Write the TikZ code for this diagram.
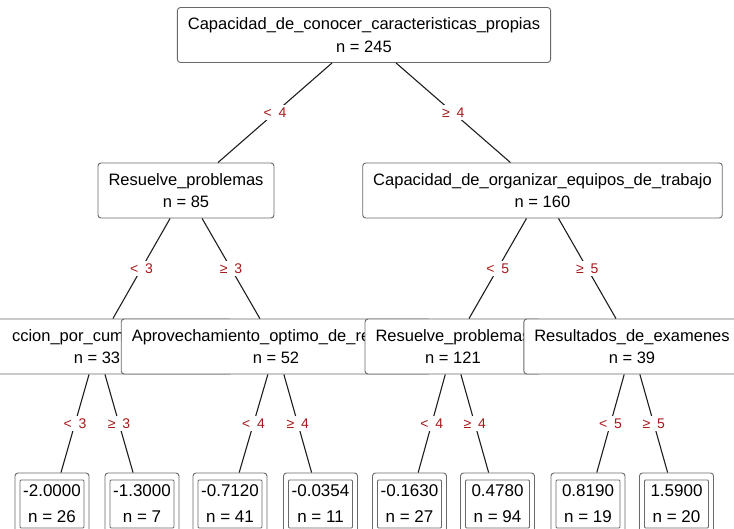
\documentclass[tikz,border=0pt]{standalone}
\usepackage{fontspec}
\setmainfont{Liberation Sans}
\usepackage{xcolor}

\definecolor{splitred}{RGB}{165,25,25}
\definecolor{boxgray}{RGB}{105,105,105}
\definecolor{edgegray}{RGB}{30,30,30}

\begin{document}
\begin{tikzpicture}[x=1pt, y=-1pt,
    splitbox/.style={draw=boxgray, line width=0.9pt, fill=white, rounded corners=3pt, align=center,
      inner xsep=10.5pt, inner ysep=2pt, minimum height=55pt, font=\fontsize{16.5}{22.6}\selectfont},
    leafbox/.style={draw=boxgray, line width=0.9pt, fill=white, rounded corners=3pt,
      minimum width=74pt, minimum height=62pt},
    leaftext/.style={draw=boxgray, line width=0.9pt, rounded corners=1pt, align=center, inner sep=1.5pt,
      minimum width=64pt, minimum height=48pt, font=\fontsize{17}{26}\selectfont},
    cutlabel/.style={fill=white, text=splitred, inner sep=2.5pt, font=\fontsize{14}{16}\selectfont},
    branch/.style={draw=edgegray, line width=1.1pt}]
    \useasboundingbox (0,0) rectangle (734,529);
    \clip (0,0) rectangle (734,529);

    % Root and second level
    \node[splitbox] (root) at (364,35) {Capacidad\_de\_conocer\_caracteristicas\_propias\\n = 245};
    \node[splitbox] (resuelve) at (186,190.5) {Resuelve\_problemas\\n = 85};
    \node[splitbox] (organizar) at (542.5,190.5) {Capacidad\_de\_organizar\_equipos\_de\_trabajo\\n = 160};

    % Third level (later boxes cover earlier ones)
    \node[splitbox] (cumplir) at (97,346.5) {\rule{40pt}{0pt}ccion\_por\_cum\rule{98pt}{0pt}\\n = 33};
    \node[splitbox] (aprovecha) at (276,346.5) {Aprovechamiento\_optimo\_de\_re\rule{50pt}{0pt}\\n = 52};
    \node[splitbox] (resuelvetwo) at (453,346.5) {Resuelve\_problemas\\n = 121};
    \node[splitbox] (examenes) at (632,346.5) {Resultados\_de\_examenes\\n = 39};

    % Leaves
    \node[leafbox] (leafa) at (52,504) {};
    \node[leaftext] (leafain) at (leafa) {-2.0000\\n = 26};
    \node[leafbox] (leafb) at (142,504) {};
    \node[leaftext] (leafbin) at (leafb) {-1.3000\\n = 7};
    \node[leafbox] (leafc) at (230,504) {};
    \node[leaftext] (leafcin) at (leafc) {-0.7120\\n = 41};
    \node[leafbox] (leafd) at (320.5,504) {};
    \node[leaftext] (leafdin) at (leafd) {-0.0354\\n = 11};
    \node[leafbox] (leafe) at (409.5,504) {};
    \node[leaftext] (leafein) at (leafe) {-0.1630\\n = 27};
    \node[leafbox] (leaff) at (497.5,504) {};
    \node[leaftext] (leaffin) at (leaff) {0.4780\\n = 94};
    \node[leafbox] (leafg) at (588,504) {};
    \node[leaftext] (leafgin) at (leafg) {0.8190\\n = 19};
    \node[leafbox] (leafh) at (676.5,504) {};
    \node[leaftext] (leafhin) at (leafh) {1.5900\\n = 20};

    % Edges with split labels
    \draw[branch] (root) -- (resuelve) node[cutlabel, midway] {<\enspace 4};
    \draw[branch] (root) -- (organizar) node[cutlabel, midway] {≥\enspace 4};
    \draw[branch] (resuelve) -- (cumplir) node[cutlabel, midway] {<\enspace 3};
    \draw[branch] (resuelve) -- (aprovecha) node[cutlabel, midway] {≥\enspace 3};
    \draw[branch] (organizar) -- (resuelvetwo) node[cutlabel, midway] {<\enspace 5};
    \draw[branch] (organizar) -- (examenes) node[cutlabel, midway] {≥\enspace 5};
    \draw[branch] (cumplir) -- (leafa) node[cutlabel, midway] {<\enspace 3};
    \draw[branch] (cumplir) -- (leafb) node[cutlabel, midway] {≥\enspace 3};
    \draw[branch] (aprovecha) -- (leafc) node[cutlabel, midway] {<\enspace 4};
    \draw[branch] (aprovecha) -- (leafd) node[cutlabel, midway] {≥\enspace 4};
    \draw[branch] (resuelvetwo) -- (leafe) node[cutlabel, midway] {<\enspace 4};
    \draw[branch] (resuelvetwo) -- (leaff) node[cutlabel, midway] {≥\enspace 4};
    \draw[branch] (examenes) -- (leafg) node[cutlabel, midway] {<\enspace 5};
    \draw[branch] (examenes) -- (leafh) node[cutlabel, midway] {≥\enspace 5};
\end{tikzpicture}
\end{document}
